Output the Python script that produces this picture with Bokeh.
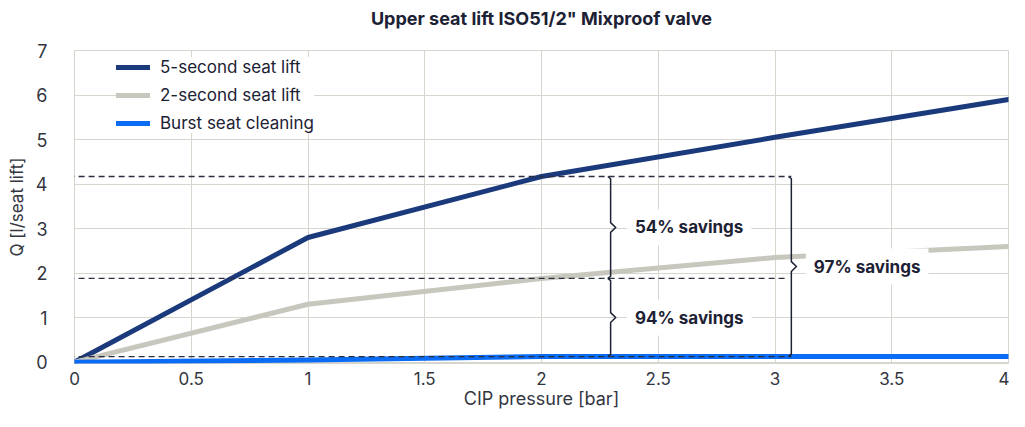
from bokeh.plotting import figure
from bokeh.models import Range1d, Legend, LegendItem, Label, Arrow, FixedTicker
from bokeh.embed import file_html
from bokeh.resources import INLINE

# ---- data ----
pressure = [0, 1, 2, 3, 4]
five_sec = [0, 2.8, 4.17, 5.05, 5.9]
two_sec = [0, 1.3, 1.88, 2.35, 2.6]
burst = [0, 0.05, 0.125, 0.13, 0.13]
series_names = ["5-second seat lift", "2-second seat lift", "Burst seat cleaning"]
x_ticks = [0, 0.5, 1, 1.5, 2, 2.5, 3, 3.5, 4]
y_ticks = [0, 1, 2, 3, 4, 5, 6, 7]
savings = ["54% savings", "94% savings", "97% savings"]
title_text = 'Upper seat lift ISO51/2" Mixproof valve'

NAVY = "#1b3a7c"
GREY = "#c8c7be"
BLUE = "#0a6cf5"
INK = "#1c2134"
GRID = "#d6d5ce"
FONT = "Inter"

p = figure(width=1009, height=411, output_backend="svg", toolbar_location=None,
           x_range=Range1d(0, 4), y_range=Range1d(-0.03, 7),
           min_border_left=74, min_border_right=1, min_border_top=50, min_border_bottom=45)

# second (blank) line lifts the title text upward inside the top border
p.title.text = title_text + "\n "
p.title.align = "center"
p.title.vertical_align = "bottom"
p.title.text_font = FONT
p.title.text_font_size = "18px"
p.title.text_font_style = "bold"
p.title.text_color = INK
p.title.standoff = 2

p.outline_line_color = GRID
p.background_fill_color = "white"
p.border_fill_color = "white"

p.xgrid.ticker = FixedTicker(ticks=x_ticks)
p.ygrid.ticker = FixedTicker(ticks=y_ticks)
p.grid.grid_line_color = GRID
p.grid.grid_line_width = 1
p.xaxis.ticker = FixedTicker(ticks=x_ticks)
p.yaxis.ticker = FixedTicker(ticks=y_ticks)
p.xaxis.major_label_overrides = {t: ("%g" % t) for t in x_ticks}

for ax in (p.xaxis, p.yaxis):
    ax.axis_line_color = None
    ax.major_tick_line_color = None
    ax.minor_tick_line_color = None
    ax.major_label_text_font = FONT
    ax.major_label_text_font_size = "17px"
    ax.major_label_text_color = "#34363f"
    ax.axis_label_text_font = FONT
    ax.axis_label_text_font_size = "17px"
    ax.axis_label_text_font_style = "normal"
    ax.axis_label_text_color = "#34363f"

p.yaxis.major_label_text_font_size = "18px"
p.xaxis.axis_label_text_font_size = "18px"
p.xaxis.axis_label = "CIP pressure [bar]"
p.yaxis.axis_label = "Q [l/seat lift]"
p.xaxis.major_label_standoff = 2
p.xaxis.axis_label_standoff = 0
p.yaxis.major_label_standoff = 21
p.yaxis.axis_label_standoff = 6

# ---- reference dashed lines at the x=2 values ----
levels = [five_sec[2], two_sec[2], burst[2]]
x_left = -0.068
x_br1 = 2.296
x_br2 = 3.07
for lv, xe in zip(levels, [x_br2, x_br2 - 0.02, x_br2]):
    p.add_layout(Arrow(end=None, x_start=x_left, y_start=lv, x_end=xe, y_end=lv,
                       line_color="#2b2f40", line_width=1.3, line_dash="6 4"))

# ---- series ----
r5 = p.line(pressure, five_sec, line_color=NAVY, line_width=5, line_join="round", line_cap="round")
r2 = p.line(pressure, two_sec, line_color=GREY, line_width=5, line_join="round", line_cap="round")
rb = p.line(pressure, burst, line_color=BLUE, line_width=5, line_join="round", line_cap="round")

# ---- braces ----
def brace(xb, ytop, ybot):
    ym = (ytop + ybot) / 2.0
    h = 0.11
    xs = [xb - 0.012, xb, xb, xb + 0.022, xb, xb, xb - 0.012]
    ys = [ytop, ytop - 0.05, ym + h, ym, ym - h, ybot + 0.05, ybot]
    return xs, ys

bx, by = [], []
for (yt, yb_) in [(levels[0], levels[1]), (levels[1], levels[2])]:
    xs, ys = brace(x_br1, yt, yb_)
    bx.append(xs); by.append(ys)
xs, ys = brace(x_br2, levels[0], levels[2])
bx.append(xs); by.append(ys)
p.multi_line(bx, by, line_color=INK, line_width=1.5, line_join="round")

label_pos = [(x_br1 + 0.07, (levels[0] + levels[1]) / 2),
             (x_br1 + 0.07, (levels[1] + levels[2]) / 2),
             (x_br2 + 0.062, (levels[0] + levels[2]) / 2)]
for txt, (lx, ly) in zip(savings, label_pos):
    p.add_layout(Label(x=lx, y=ly, text=txt, text_font=FONT, text_font_size="17px",
                       text_font_style="bold", text_color=INK, text_baseline="middle",
                       background_fill_color="white", padding=8))

# ---- legend ----
legend = Legend(items=[LegendItem(label=series_names[0], renderers=[r5]),
                       LegendItem(label=series_names[1], renderers=[r2]),
                       LegendItem(label=series_names[2], renderers=[rb])],
                location=(42, 230), orientation="vertical",
                padding=10, spacing=8, margin=0,
                glyph_width=34, glyph_height=20, label_height=20, label_standoff=10,
                label_text_font=FONT, label_text_font_size="17px", label_text_color=INK,
                background_fill_color="white", background_fill_alpha=1.0,
                border_line_color=None)
p.add_layout(legend)

open("out.html", "w").write(file_html(p, INLINE))
